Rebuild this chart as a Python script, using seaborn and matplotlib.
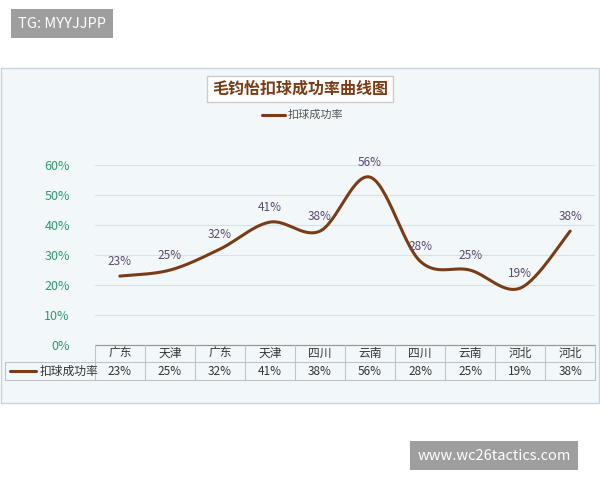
import matplotlib
matplotlib.use("Agg")
import matplotlib.pyplot as plt
import seaborn as sns
import numpy as np
import pandas as pd
from matplotlib.patches import Rectangle

sns.set_theme(style="white")
plt.rcParams['font.family'] = ['Noto Sans CJK SC', 'DejaVu Sans']

categories = ["广东", "天津", "广东", "天津", "四川", "云南", "四川", "云南", "河北", "河北"]
rates = [23, 25, 32, 41, 38, 56, 28, 25, 19, 38]
series_name = "扣球成功率"
title = "毛钧怡扣球成功率曲线图"

df = pd.DataFrame({"pos": np.arange(len(rates)), "rate": rates})

# Catmull-Rom smoothing for rendering the curve through the data points
def smooth(x, y, n=30):
    xs, ys = [], []
    P = list(zip(x, y))
    P = [P[0]] + P + [P[-1]]
    for i in range(1, len(P) - 2):
        p0, p1, p2, p3 = map(np.array, (P[i-1], P[i], P[i+1], P[i+2]))
        for t in np.linspace(0, 1, n, endpoint=False):
            t2, t3 = t*t, t*t*t
            pt = 0.5*((2*p1) + (-p0+p2)*t + (2*p0-5*p1+4*p2-p3)*t2 + (-p0+3*p1-3*p2+p3)*t3)
            xs.append(pt[0]); ys.append(pt[1])
    xs.append(x[-1]); ys.append(y[-1])
    return np.array(xs), np.array(ys)

sx, sy = smooth(df["pos"].values.astype(float), df["rate"].values.astype(float))
sdf = pd.DataFrame({"x": sx, "y": sy})

fig = plt.figure(figsize=(6, 4.8), dpi=100)
fig.patch.set_facecolor("white")
fig.patches.append(Rectangle((0.002, 0.16), 0.996, 0.698, transform=fig.transFigure,
                             facecolor="#f2f7fa", edgecolor="#c5d5de", lw=1, zorder=-5))
ax = fig.add_axes([0.158, 0.281, 0.834, 0.375])
ax.set_facecolor("none")
ax.set_zorder(2)
color = "#7a3c16"
sns.lineplot(data=sdf, x="x", y="y", ax=ax, color=color, lw=2.2, sort=False)
ax.set_xlim(-0.5, len(rates) - 0.5)
ax.set_ylim(0, 60)
ax.set_yticks(range(0, 61, 10))
ax.set_yticklabels([f"{v}%" for v in range(0, 61, 10)], color="#2e9a6a", fontsize=9)
ax.tick_params(axis="y", length=0, pad=18)
ax.set_xticks([])
ax.set_xlabel(""); ax.set_ylabel("")
for v in range(10, 61, 10):
    ax.axhline(v, color="#d9e2e6", lw=0.8, zorder=0)
for s in ax.spines.values():
    s.set_visible(False)
for i, v in enumerate(rates):
    ax.annotate(f"{v}%", (i, v), xytext=(0, 6), textcoords="offset points",
                ha="center", va="bottom", fontsize=8.5, color="#5a4a6e")

# data table
tr = ax.get_xaxis_transform()
lc = "#b9c6cc"
r0, r1, r2 = 0, -0.094, -0.194
ax.plot([-0.5, 9.5], [r0, r0], transform=tr, color="#999", lw=0.9, clip_on=False)
ax.plot([-0.5, 9.5], [r1, r1], transform=tr, color=lc, lw=0.8, clip_on=False)
ax.plot([-0.5, 9.5], [r2, r2], transform=tr, color=lc, lw=0.8, clip_on=False)
for i in range(len(rates) + 1):
    ax.plot([i - 0.5, i - 0.5], [r0, r2], transform=tr, color=lc, lw=0.8, clip_on=False)
    if i < len(rates):
        ax.text(i, (r0 + r1) / 2, categories[i], transform=tr, ha="center", va="center", fontsize=8.5, color="#333")
        ax.text(i, (r1 + r2) / 2, f"{rates[i]}%", transform=tr, ha="center", va="center", fontsize=8.5, color="#333")
tra = ax.transAxes
ax.plot([-0.18, 0], [r1, r1], transform=tra, color=lc, lw=0.8, clip_on=False)
ax.plot([-0.18, 0], [r2, r2], transform=tra, color=lc, lw=0.8, clip_on=False)
ax.plot([-0.18, -0.18], [r1, r2], transform=tra, color=lc, lw=0.8, clip_on=False)
ax.plot([-0.17, -0.118], [(r1+r2)/2]*2, transform=tra, color=color, lw=2.2, clip_on=False)
ax.text(-0.11, (r1 + r2) / 2, series_name, transform=tra, ha="left", va="center", fontsize=8.5, color="#333")

# title and legend
fig.text(0.5, 0.815, title, ha="center", va="center", fontsize=11.5, fontweight="bold", color="#7a3c16",
         bbox=dict(boxstyle="square,pad=0.3", facecolor="white", edgecolor="#cccccc"))
fig.lines.append(plt.Line2D([0.437, 0.475], [0.761, 0.761], transform=fig.transFigure, color=color, lw=2.2))
fig.text(0.48, 0.761, series_name, ha="left", va="center", fontsize=8, color="#555")

# watermark boxes
fig.text(0.03, 0.951, "TG: MYYJJPP", ha="left", va="center", fontsize=10.5, color="white",
         bbox=dict(boxstyle="square,pad=0.5", facecolor="#9e9e9e", edgecolor="none"))
fig.text(0.823, 0.051, "www.wc26tactics.com", ha="center", va="center", fontsize=10.5, color="white",
         bbox=dict(boxstyle="square,pad=0.5", facecolor="#9e9e9e", edgecolor="none"))

fig.savefig("out.png", dpi=100)
